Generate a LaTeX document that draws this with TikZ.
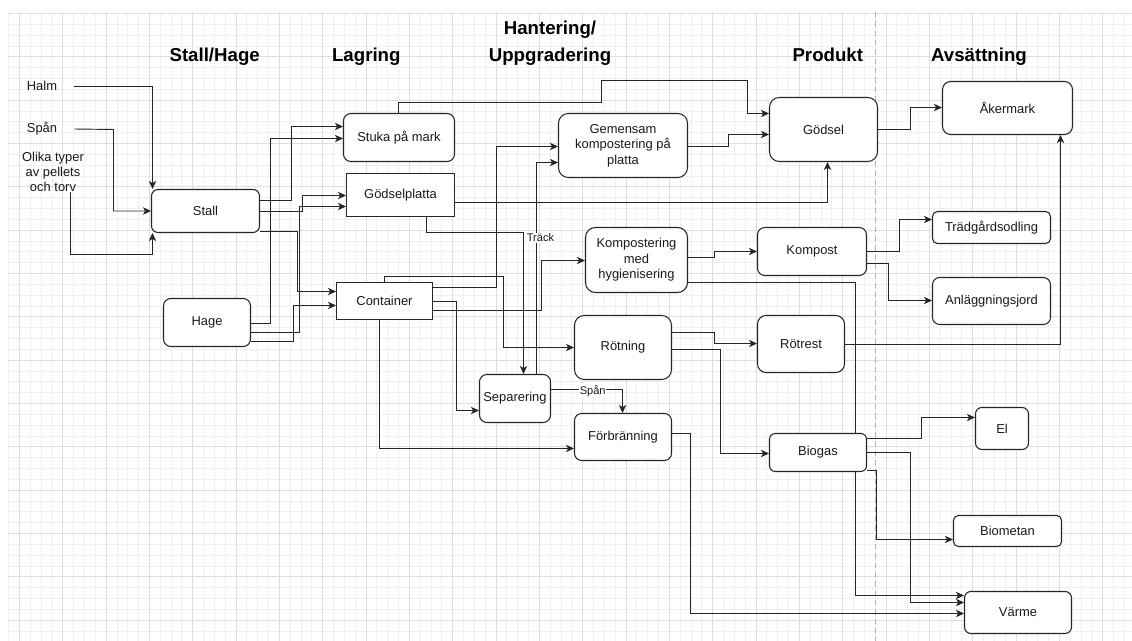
\documentclass[tikz,border=0pt]{standalone}
\usepackage{fontspec}
\setmainfont{Liberation Sans}
\usetikzlibrary{arrows.meta}
\pgfdeclarelayer{gridlayer}
\pgfdeclarelayer{connlayer}
\pgfsetlayers{gridlayer,connlayer,main}
\tikzset{
  bodyfont/.style={font=\fontsize{9.7pt}{11.6pt}\selectfont},
  rbox/.style={draw=black!85, line width=0.8pt, fill=white, rounded corners=#1pt, bodyfont, align=center, inner sep=0pt, text=black!90},
  sbox/.style={draw=black!85, line width=0.8pt, fill=white, bodyfont, align=center, inner sep=0pt, text=black!90},
  sz/.style 2 args={minimum width=#1*0.75pt, minimum height=#2*0.75pt},
  conn/.style={draw=black!85, line width=0.7pt, -{Stealth[length=6pt,width=5.5pt,inset=1.6pt]}},
  title/.style={font=\fontsize{14pt}{20pt}\selectfont\bfseries, align=center, anchor=base, text=black},
  lbl/.style={font=\fontsize{8.3pt}{10pt}\selectfont, fill=white, inner sep=0.6pt, text=black!90},
  src/.style={font=\fontsize{9.7pt}{11.25pt}\selectfont, align=center, inner sep=0pt, text=black!90},
  minorgrid/.style={draw=black!6, line width=0.75pt},
  majorgrid/.style={draw=black!13, line width=0.75pt},
}
\begin{document}
\begin{tikzpicture}[x=0.75pt,y=-0.75pt]
\useasboundingbox (0,0) rectangle (1132,641);

% ---------- background grid ----------
\begin{pgfonlayer}{gridlayer}
\fill[white] (0,0) rectangle (1132,641);
\foreach \i in {0,...,103} \draw[minorgrid] ({8.67+10.833*\i},12.5) -- ({8.67+10.833*\i},641);
\foreach \j in {0,...,57} \draw[minorgrid] (8,{13.67+10.833*\j}) -- (1132,{13.67+10.833*\j});
\foreach \i in {0,...,25} \draw[majorgrid] ({19.5+43.333*\i},12.5) -- ({19.5+43.333*\i},641);
\foreach \j in {0,...,14} \draw[majorgrid] (8,{13.67+43.333*\j}) -- (1132,{13.67+43.333*\j});
\draw[black!30, dash pattern=on 4pt off 3pt, line width=0.75pt] (875,12) -- (875,641);
\end{pgfonlayer}

% ---------- titles ----------
\node[title] (t1) at (214.7,61.5) {Stall/Hage};
\node[title] (t2) at (366.3,61.5) {Lagring};
\node[title] (t3) at (550,61.5) {Hantering/\\Uppgradering};
\node[title] (t4) at (827.8,61.5) {Produkt};
\node[title] (t5) at (979,61.5) {Avsättning};

% ---------- sources ----------
\node[src] (halm) at (42,86) {Halm};
\node[src] (span) at (42,129) {Spån};
\node[src] (olika) at (53,172) {Olika typer\\av pellets\\och torv};

% ---------- boxes ----------
\node[rbox=4.95, sz={108}{43}] (stall) at (205.5,211) {Stall};
\node[rbox=5.5, sz={87}{48}] (hage) at (207,322.5) {Hage};
\node[rbox=5.5, sz={111}{48}] (stuka) at (399,137.5) {Stuka på mark};
\node[sbox, sz={108}{43}] (gplatta) at (400.5,195) {Gödselplatta};
\node[sbox, sz={96}{37}] (container) at (384.5,301) {Container};
\node[rbox=7.3, sz={129}{64}] (gemensam) at (623,145.5) {Gemensam\\kompostering på\\platta};
\node[rbox=7.4, sz={102}{65}] (komphyg) at (636.5,260) {Kompostering\\med\\hygienisering};
\node[rbox=7.3, sz={97}{64}] (rotning) at (623,347.5) {Rötning};
\node[rbox=5.5, sz={71}{48}] (separering) at (515,398.5) {Separering};
\node[rbox=5.4, sz={97}{47}] (forbr) at (623,437) {Förbränning};
\node[rbox=7.3, sz={108}{64}] (godsel) at (823.5,129.5) {Gödsel};
\node[rbox=5.5, sz={109}{48}] (kompost) at (812,251.5) {Kompost};
\node[rbox=6.5, sz={87}{57}] (rotrest) at (801,344) {Rötrest};
\node[rbox=4.4, sz={97}{38}] (biogas) at (818,452.5) {Biogas};
\node[rbox=6.1, sz={130}{53}] (akermark) at (1007.5,108) {Åkermark};
\node[rbox=3.7, sz={118}{32}] (tradgard) at (991.5,227.5) {Trädgårdsodling};
\node[rbox=5.4, sz={118}{47}] (anlagg) at (991.5,301) {Anläggningsjord};
\node[rbox=4.8, sz={53}{42}] (el) at (1002,428.5) {El};
\node[rbox=3.6, sz={108}{31}] (biometan) at (1007.5,531) {Biometan};
\node[rbox=4.8, sz={107}{42}] (varme) at (1018,612.5) {Värme};

% ---------- edge labels ----------
\node[lbl] (lbltrack) at (540.5,238) {Träck};
\node[lbl] (lblspan) at (592.7,390.7) {Spån};

% ---------- connectors ----------
\begin{pgfonlayer}{connlayer}
\draw[conn] (halm.east) ++(17,0) -| (stall.north -| 152.5,0);
\draw[conn] (span.east) ++(17,0) -- (113.5,129.5) |- (stall.west);
\draw[conn] (olika.south -| 70.5,0) -- (70.5,254.5) -| (stall.south -| 152.5,0);

\draw[conn] (stall.east |- 0,200.5) -| (291.5,126.5) -- (stuka.west |- 0,126.5);
\draw[conn] (stall.east |- 0,211.5) -| (302.5,195.5) -- (gplatta.west |- 0,195.5);
\draw[conn] (stall.east |- 0,231.5) -| (297.5,291.5) -- (container.west |- 0,291.5);
\draw[conn] (hage.east |- 0,323.5) -| (270.5,138.5) -- (stuka.west |- 0,138.5);
\draw[conn] (hage.east |- 0,332.5) -| (299.5,206.5) -- (gplatta.west |- 0,206.5);
\draw[conn] (hage.east |- 0,341.5) -| (293.5,305.5) -- (container.west |- 0,305.5);

\draw[conn] (stuka.north -| 398.5,0) -- (398.5,102.5) -| (601.5,80.5) -| (747.5,113.5) -- (godsel.west |- 0,113.5);
\draw[conn] (gplatta.east |- 0,202.5) -| (godsel.south -| 827.5,0);
\draw[conn] (gplatta.south -| 426.5,0) |- (523.5,232.5) -- (separering.north -| 523.5,0);

\draw[conn] (separering.north -| 536.5,0) |- (gemensam.west |- 0,162.5);
\draw[conn] (separering.east |- 0,389.5) -| (forbr.north -| 622.5,0);

\draw[conn] (container.north -| 384.5,0) |- (503.5,276.5) |- (rotning.west |- 0,347.5);
\draw[conn] (container.east |- 0,287.5) -| (496.5,146.5) -- (gemensam.west |- 0,146.5);
\draw[conn] (container.east |- 0,301.5) -| (456.5,410.5) -- (separering.west |- 0,410.5);
\draw[conn] (container.east |- 0,310.5) -| (541.5,260.5) -- (komphyg.west |- 0,260.5);
\draw[conn] (container.south -| 379.5,0) |- (forbr.west |- 0,448.5);

\draw[conn] (gemensam.east |- 0,146.5) -| (728.5,134.5) -- (godsel.west |- 0,134.5);
\draw[conn] (komphyg.east |- 0,257.5) -| (714.5,251.5) -- (kompost.west |- 0,251.5);
\draw[conn] (komphyg.east |- 0,282.5) -| (855.5,595.5) -- (varme.west |- 0,595.5);
\draw[conn] (kompost.east |- 0,251.5) -| (899.5,219.5) -- (tradgard.west |- 0,219.5);
\draw[conn] (kompost.east |- 0,263.5) -| (888.5,300.5) -- (anlagg.west |- 0,300.5);
\draw[conn] (rotning.east |- 0,332.5) -| (714.5,343.5) -- (rotrest.west |- 0,343.5);
\draw[conn] (rotning.east |- 0,349.5) -| (720.5,453.5) -- (biogas.west |- 0,453.5);
\draw[conn] (rotrest.east |- 0,344.5) -| (akermark.south -| 1060.5,0);
\draw[conn] (godsel.east |- 0,129.5) -| (910.5,107.5) -- (akermark.west |- 0,107.5);
\draw[conn] (biogas.east |- 0,438.5) -| (921.5,417.5) -- (el.west |- 0,417.5);
\draw[conn] (biogas.east |- 0,452.5) -| (910.5,602.5) -- (varme.west |- 0,602.5);
\draw[conn] (biogas.east |- 0,470.5) -| (876.5,539.5) -- (biometan.west |- 0,539.5);
\draw[conn] (forbr.east |- 0,433.5) -| (690.5,613.5) -- (varme.west |- 0,613.5);
\end{pgfonlayer}
\end{tikzpicture}
\end{document}
